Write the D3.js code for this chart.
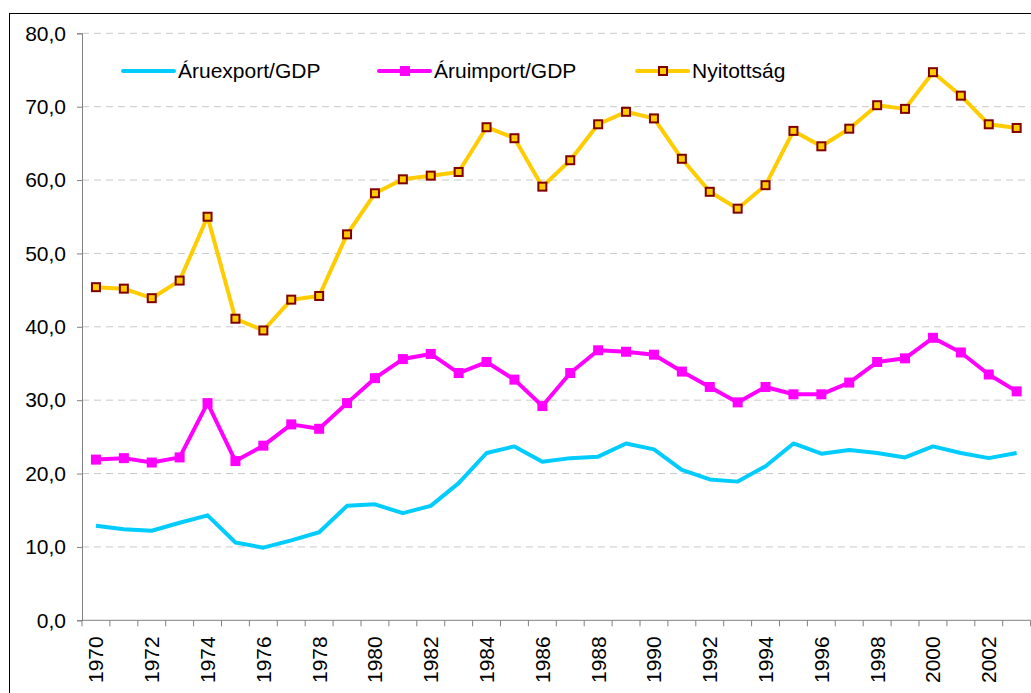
<!DOCTYPE html>
<html>
<head>
<meta charset="utf-8">
<script src="https://cdn.jsdelivr.net/npm/d3@7"></script>
<style>
  body { margin: 0; background: #fff; }
  svg text { font-family: "Liberation Sans", Arial, sans-serif; fill: #000; }
</style>
</head>
<body>
<svg id="chart" width="1031" height="693"></svg>
<script>
const years = d3.range(1970, 2004);
const exportGdp = [12.9, 12.4, 12.2, 13.3, 14.3, 10.6, 9.9, 10.9, 12.0, 15.6, 15.8, 14.6,
  15.6, 18.7, 22.8, 23.7, 21.6, 22.1, 22.3, 24.1, 23.3, 20.5, 19.2, 18.9, 21.0, 24.1,
  22.7, 23.2, 22.8, 22.2, 23.7, 22.8, 22.1, 22.8];
const importGdp = [21.9, 22.1, 21.5, 22.2, 29.6, 21.7, 23.8, 26.7, 26.1, 29.6, 33.0, 35.6,
  36.3, 33.7, 35.2, 32.8, 29.2, 33.7, 36.8, 36.6, 36.2, 33.9, 31.8, 29.7, 31.8, 30.8,
  30.8, 32.4, 35.2, 35.7, 38.5, 36.5, 33.5, 31.2];
const openness = [45.4, 45.2, 43.9, 46.3, 55.0, 41.1, 39.5, 43.7, 44.2, 52.6, 58.2, 60.1,
  60.6, 61.1, 67.2, 65.7, 59.1, 62.7, 67.6, 69.3, 68.4, 62.9, 58.4, 56.1, 59.3, 66.7,
  64.6, 67.0, 70.2, 69.7, 74.7, 71.5, 67.6, 67.1];
const seriesNames = ["Áruexport/GDP", "Áruimport/GDP", "Nyitottság"];
const yTicks = [0, 10, 20, 30, 40, 50, 60, 70, 80];

const svg = d3.select("#chart");
const plotLeft = 82, plotRight = 1030.6, plotTop = 33.3, plotBottom = 620.3;
const fontSize = 21;

// outer frame (runs off the right and bottom edge)
svg.append("rect")
  .attr("x", 9.5).attr("y", 13.5)
  .attr("width", 1100).attr("height", 800)
  .attr("fill", "none").attr("stroke", "#000").attr("stroke-width", 1);

const x = d3.scaleBand().domain(years).range([plotLeft, plotRight]).padding(0);
const y = d3.scaleLinear().domain([0, 80]).range([plotBottom, plotTop]);
const cx = d => x(d) + x.bandwidth() / 2;

// gridlines
svg.append("g")
  .selectAll("line")
  .data(yTicks.filter(d => d > 0))
  .join("line")
  .attr("x1", plotLeft).attr("x2", plotRight)
  .attr("y1", d => y(d)).attr("y2", d => y(d))
  .attr("stroke", "#c8c8c8").attr("stroke-width", 1)
  .attr("stroke-dasharray", "7,5");

// y axis
const yAxis = d3.axisLeft(y)
  .tickValues(yTicks)
  .tickSize(5)
  .tickPadding(11)
  .tickFormat(d => d3.format(".1f")(d).replace(".", ","));
const gy = svg.append("g").attr("transform", `translate(${plotLeft},0)`).call(yAxis);
gy.select(".domain").attr("stroke", "#808080");
gy.selectAll(".tick line").attr("stroke", "#808080");
gy.selectAll(".tick text").attr("font-size", fontSize).attr("font-family", "Liberation Sans, Arial, sans-serif");

// x axis: line, ticks between categories, labels every other year
const gx = svg.append("g");
gx.append("line")
  .attr("x1", plotLeft).attr("x2", plotRight)
  .attr("y1", plotBottom).attr("y2", plotBottom)
  .attr("stroke", "#808080");
gx.selectAll(".xtick")
  .data(years.map(d => x(d)).concat([plotRight]))
  .join("line")
  .attr("class", "xtick")
  .attr("x1", d => d).attr("x2", d => d)
  .attr("y1", plotBottom).attr("y2", plotBottom + 6)
  .attr("stroke", "#808080");
gx.selectAll(".xlabel")
  .data(years.filter(d => d % 2 === 0))
  .join("text")
  .attr("class", "xlabel")
  .attr("transform", d => `translate(${cx(d)},${plotBottom + 16}) rotate(-90)`)
  .attr("text-anchor", "end")
  .attr("dy", "0.35em")
  .attr("font-size", fontSize)
  .text(d => d);

// lines
const line = vals => d3.line()
  .x((v, i) => cx(years[i]))
  .y(v => y(v))(vals);

const series = [
  { name: seriesNames[0], values: exportGdp, color: "#00ccff", marker: null },
  { name: seriesNames[1], values: importGdp, color: "#ff00ff", marker: "fill" },
  { name: seriesNames[2], values: openness, color: "#ffcc00", marker: "box" }
];

function drawMarker(g, mx, my, s) {
  if (s.marker === "fill") {
    g.append("rect")
      .attr("x", mx - 5).attr("y", my - 5)
      .attr("width", 10).attr("height", 10)
      .attr("fill", "#ff00ff");
  } else if (s.marker === "box") {
    g.append("rect")
      .attr("x", mx - 4).attr("y", my - 4)
      .attr("width", 8).attr("height", 8)
      .attr("fill", "#ffcc00").attr("stroke", "#800000").attr("stroke-width", 2);
  }
}

series.forEach(s => {
  const g = svg.append("g");
  g.append("path")
    .attr("d", line(s.values))
    .attr("fill", "none")
    .attr("stroke", s.color)
    .attr("stroke-width", 4)
    .attr("stroke-linejoin", "round");
  s.values.forEach((v, i) => drawMarker(g, cx(years[i]), y(v), s));
});

// legend
const legendX = [123, 379, 637];
const legendY = 71;
series.forEach((s, i) => {
  const g = svg.append("g");
  g.append("line")
    .attr("x1", legendX[i]).attr("x2", legendX[i] + 51)
    .attr("y1", legendY).attr("y2", legendY)
    .attr("stroke", s.color).attr("stroke-width", 4)
    .attr("stroke-linecap", "round");
  drawMarker(g, legendX[i] + 26, legendY, s);
  g.append("text")
    .attr("x", legendX[i] + 55)
    .attr("y", legendY)
    .attr("dy", "0.35em")
    .attr("font-size", fontSize)
    .text(s.name);
});
</script>
</body>
</html>
